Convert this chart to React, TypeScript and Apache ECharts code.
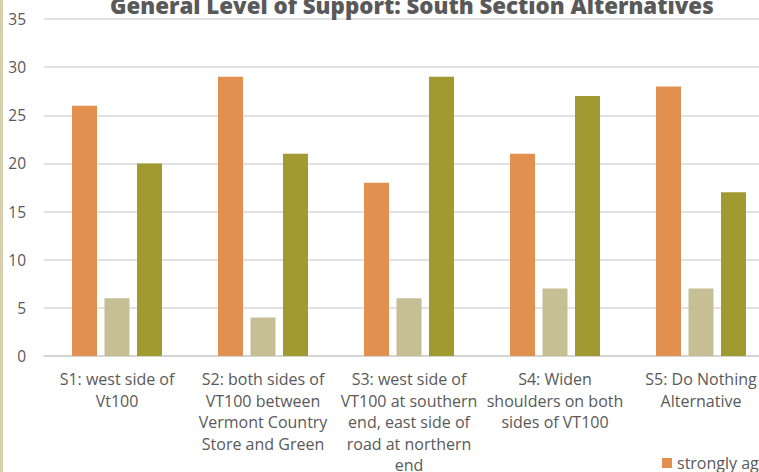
import React, { useEffect, useRef } from "react";
import * as echarts from "echarts";

const titleText = "General Level of Support: South Section Alternatives";
const categories = [
  "S1: west side of\nVt100",
  "S2: both sides of\nVT100 between\nVermont Country\nStore and Green",
  "S3: west side of\nVT100 at southern\nend, east side of\nroad at northern\nend",
  "S4: Widen\nshoulders on both\nsides of VT100",
  "S5: Do Nothing\nAlternative",
];
const seriesNames = ["strongly agree", "neutral", "strongly disagree"];
const stronglyAgree = [26, 29, 18, 21, 28];
const neutral = [6, 4, 6, 7, 7];
const stronglyDisagree = [20, 21, 29, 27, 17];
const yTicks = { min: 0, max: 35, interval: 5 };
const colors = ["#E2904F", "#C6BE95", "#A09A30"];

export default function App() {
  const ref = useRef<HTMLDivElement>(null);
  useEffect(() => {
    if (!ref.current) return;
    const chart = echarts.init(ref.current, null, { renderer: "svg" });
    const font = "'Open Sans', sans-serif";
    const values = [stronglyAgree, neutral, stronglyDisagree];
    chart.setOption({
      animation: false,
      backgroundColor: "#ffffff",
      textStyle: { fontFamily: font },
      title: {
        text: titleText,
        left: 105,
        top: -11,
        textStyle: {
          fontFamily: "'Open Sans', sans-serif",
          fontWeight: 800,
          fontSize: 22.3,
          color: "#595959",
        },
      },
      graphic: [
        {
          type: "rect",
          shape: { x: 0, y: 0, width: 3, height: 472 },
          style: { fill: "#D6CFAE" },
          silent: true,
        },
      ],
      legend: {
        left: 657,
        top: 450,
        orient: "horizontal",
        itemWidth: 10,
        itemHeight: 10,
        itemGap: 14,
        icon: "rect",
        textStyle: { fontFamily: font, fontSize: 16, color: "#595959" },
        data: seriesNames,
      },
      grid: {
        left: 44,
        top: 19,
        width: 730,
        bottom: 116,
        outerBoundsMode: "none",
        containLabel: false,
      },
      xAxis: {
        type: "category",
        data: categories,
        axisTick: { show: false },
        axisLine: { lineStyle: { color: "#D0D0D0", width: 1.5 } },
        axisLabel: {
          interval: 0,
          margin: 12.5,
          fontFamily: font,
          fontSize: 16,
          lineHeight: 21.5,
          color: "#595959",
        },
      },
      yAxis: {
        type: "value",
        min: yTicks.min,
        max: yTicks.max,
        interval: yTicks.interval,
        axisLine: { show: false },
        axisTick: { show: false },
        splitLine: { lineStyle: { color: "#D9D9D9", width: 1.5 } },
        axisLabel: {
          margin: 18,
          fontFamily: font,
          fontSize: 15.5,
          color: "#595959",
        },
      },
      series: seriesNames.map((name, i) => ({
        name,
        type: "bar",
        data: values[i],
        barWidth: 25,
        barGap: "30%",
        itemStyle: { color: colors[i] },
      })),
    });
    return () => chart.dispose();
  }, []);
  return (
    <div
      style={{
        position: "fixed",
        left: 0,
        top: 0,
        width: 759,
        height: 472,
        overflow: "hidden",
        background: "#fff",
      }}
    >
      <div ref={ref} style={{ width: 1100, height: 472 }} />
    </div>
  );
}
